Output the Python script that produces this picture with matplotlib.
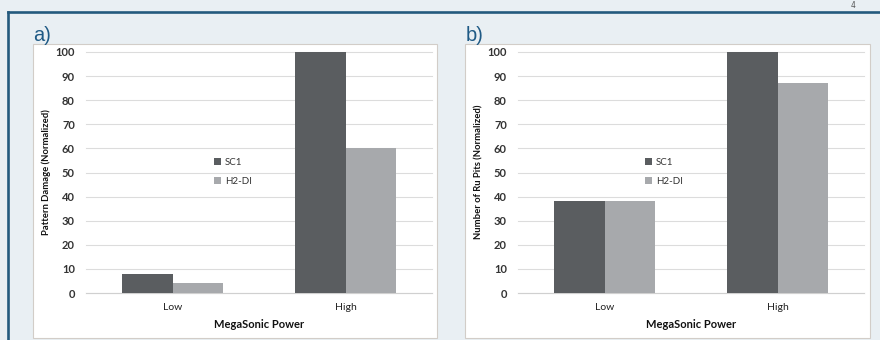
import matplotlib
matplotlib.use("Agg")
import matplotlib.pyplot as plt
from matplotlib.patches import Rectangle
from matplotlib.lines import Line2D
import numpy as np

plt.rcParams['font.family'] = ['Lato', 'DejaVu Sans']

categories = ["Low", "High"]
series_names = ["SC1", "H2-DI"]
damage_sc1 = [8, 100]
damage_h2di = [4, 60]
pits_sc1 = [38, 100]
pits_h2di = [38, 87]
yticks = [0, 10, 20, 30, 40, 50, 60, 70, 80, 90, 100]
panel_labels = ["a)", "b)"]
ylabels = ["Pattern Damage (Normalized)", "Number of Ru Pits (Normalized)"]
xlabel = "MegaSonic Power"

W, H = 880, 340
fig = plt.figure(figsize=(8.8, 3.4), dpi=100, facecolor="#e9eff3")

def fx(px):
    return px / W

def fy(py):
    return 1 - py / H

# frame lines
fig.add_artist(Line2D([fx(8), 1.0], [fy(12), fy(12)], color="#245a7d", lw=1.9,
                      transform=fig.transFigure))
fig.add_artist(Line2D([fx(8), fx(8)], [fy(12), 0.0], color="#245a7d", lw=1.9,
                      transform=fig.transFigure))
fig.text(fx(851), fy(1), "4", fontsize=5.5, color="#555555", va="top",
         family="DejaVu Sans")

panels = [
    dict(white=(33, 44, 437, 338), ax=(86, 52, 432, 293), data=(damage_sc1, damage_h2di),
         label_x=33, ylab_x=46, leg_x=214),
    dict(white=(465, 44, 870, 338), ax=(518, 52, 864, 293), data=(pits_sc1, pits_h2di),
         label_x=466, ylab_x=479, leg_x=645),
]

colors = ["#5a5d60", "#a7a9ac"]
bw = 0.29

for i, p in enumerate(panels):
    x0, y0, x1, y1 = p["white"]
    fig.add_artist(Rectangle((fx(x0), fy(y1)), fx(x1 - x0), (y1 - y0) / H,
                             facecolor="white", edgecolor="#d2cdc8", lw=0.8,
                             transform=fig.transFigure, zorder=0))
    fig.text(fx(p["label_x"]), fy(41), panel_labels[i], fontsize=14.5,
             color="#1f5a85", family="Liberation Sans", va="baseline", ha="left")
    ax0, ay0, ax1, ay1 = p["ax"]
    ax = fig.add_axes([fx(ax0), fy(ay1), fx(ax1 - ax0), (ay1 - ay0) / H])
    ax.set_facecolor("none")
    x = np.arange(len(categories))
    s1, s2 = p["data"]
    ax.bar(x - bw / 2, s1, bw, color=colors[0], label=series_names[0], zorder=3)
    ax.bar(x + bw / 2, s2, bw, color=colors[1], label=series_names[1], zorder=3)
    ax.set_xlim(-0.5, 1.5)
    ax.set_ylim(0, 100)
    ax.set_yticks(yticks)
    ax.set_yticklabels([str(t) for t in yticks], fontsize=8, fontweight="bold",
                       color="#333333")
    ax.set_xticks(x)
    ax.set_xticklabels(categories, fontsize=7.5, color="#222222")
    ax.tick_params(axis="y", length=0, pad=8)
    ax.tick_params(axis="x", length=0, pad=7)
    ax.grid(axis="y", color="#dcdcdc", lw=0.8, zorder=0)
    for t in ax.yaxis.get_gridlines():
        t.set_clip_on(False)
    for s in ["top", "right", "left"]:
        ax.spines[s].set_visible(False)
    ax.spines["bottom"].set_color("#d0d0d0")
    ax.spines["bottom"].set_linewidth(0.8)
    ax.set_xlabel(xlabel, fontsize=8, fontweight="bold", color="#111111", labelpad=5)
    fig.text(fx(p["ylab_x"]), fy(172), ylabels[i], rotation=90, fontsize=6.8,
             fontweight="bold", color="#111111", ha="center", va="center")
    ax.legend(loc="upper left", bbox_to_anchor=(fx(p["leg_x"]), fy(158)),
              bbox_transform=fig.transFigure, frameon=False, fontsize=7,
              handlelength=0.7, handleheight=0.7, handletextpad=0.4,
              labelspacing=1.0, borderpad=0, borderaxespad=0,
              labelcolor="#333333")

fig.savefig("out.png", dpi=100, facecolor=fig.get_facecolor())
